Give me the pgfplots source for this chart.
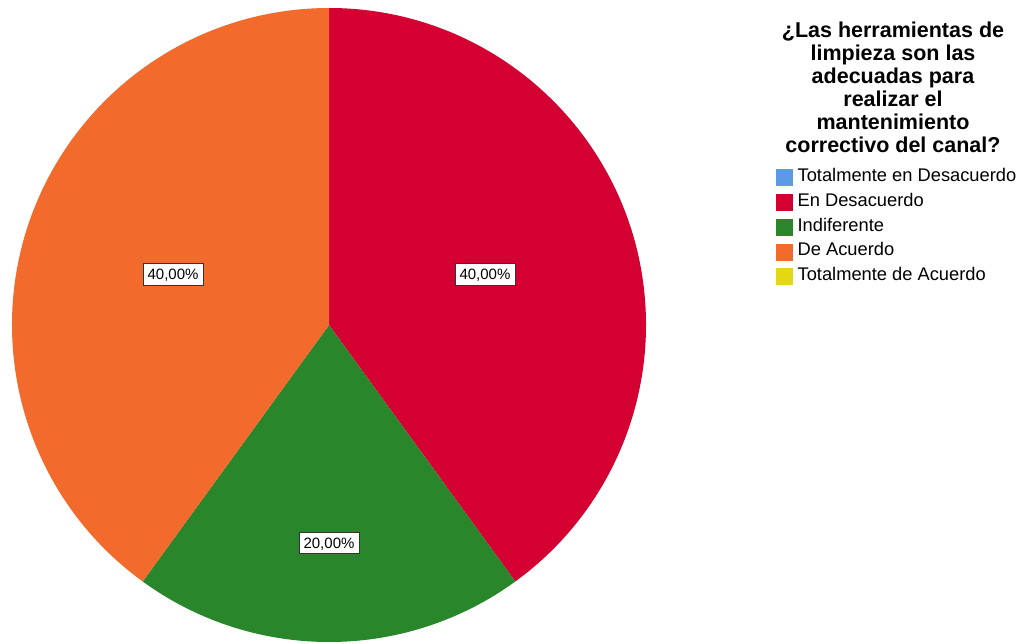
\documentclass[border=0pt]{standalone}
\usepackage{pgfplots}
\pgfplotsset{compat=1.18}
\usetikzlibrary{calc}
\usepackage{fontspec}
\setmainfont{Liberation Sans}
\definecolor{cBlue}{RGB}{91,155,230}
\definecolor{cRed}{RGB}{213,0,50}
\definecolor{cGreen}{RGB}{42,134,42}
\definecolor{cOrange}{RGB}{242,107,45}
\definecolor{cYellow}{RGB}{228,216,20}
% data: percentages
\def\vA{0}  % Totalmente en Desacuerdo
\def\vB{40} % En Desacuerdo
\def\vC{20} % Indiferente
\def\vD{40} % De Acuerdo
\def\vE{0}  % Totalmente de Acuerdo
\pgfmathsetmacro{\aA}{90-3.6*\vA}
\pgfmathsetmacro{\aB}{\aA-3.6*\vB}
\pgfmathsetmacro{\aC}{\aB-3.6*\vC}
\pgfmathsetmacro{\aD}{\aC-3.6*\vD}
\pgfmathsetmacro{\mB}{(\aA+\aB)/2}
\pgfmathsetmacro{\mC}{(\aB+\aC)/2}
\pgfmathsetmacro{\mD}{(\aC+\aD)/2}
\begin{document}
\begin{tikzpicture}
\begin{axis}[
  at={(0,0)}, anchor=south west,
  scale only axis, width=1024pt, height=643pt,
  xmin=0, xmax=1024, ymin=0, ymax=643,
  hide axis, clip=false,
  legend cell align=left,
  legend style={at={(axis cs:776,474)}, anchor=north west, draw=none, fill=none,
    inner sep=0pt, row sep=7.7pt,
    font=\fontsize{18.3}{20}\selectfont,
    nodes={inner sep=0pt, text height=12.5pt, text depth=4.5pt},
    /tikz/every odd column/.append style={column sep=5pt}},
]
\fill[cRed] (axis cs:329,318) -- ++(\aA:317pt) arc[start angle=\aA, end angle=\aB, radius=317pt] -- cycle;
\fill[cGreen] (axis cs:329,318) -- ++(\aB:317pt) arc[start angle=\aB, end angle=\aC, radius=317pt] -- cycle;
\fill[cOrange] (axis cs:329,318) -- ++(\aC:317pt) arc[start angle=\aC, end angle=\aD, radius=317pt] -- cycle;
\tikzset{pl/.style={draw=black!80, line width=0.8pt, fill=white, inner xsep=4.5pt, inner ysep=5pt, text height=11pt, text depth=0.5pt, font=\fontsize{15}{17}\selectfont}}
\node[pl] at ($(axis cs:329,318)+(\mB:164pt)$) {40,00\%};
\node[pl] at ($(axis cs:329,318)+(\mC:218pt)$) {20,00\%};
\node[pl] at ($(axis cs:329,318)+(\mD:164pt)$) {40,00\%};
\node[anchor=north, align=center, inner sep=0pt, font=\bfseries\fontsize{21.5}{23}\selectfont] at (axis cs:893,621)
  {¿Las herramientas de\\limpieza son las\\adecuadas para\\realizar el\\mantenimiento\\correctivo del canal?};
\addlegendimage{legend image code/.code={\fill[cBlue] (0pt,-8pt) rectangle (16pt,8pt);}}
\addlegendentry{Totalmente en Desacuerdo}
\addlegendimage{legend image code/.code={\fill[cRed] (0pt,-8pt) rectangle (16pt,8pt);}}
\addlegendentry{En Desacuerdo}
\addlegendimage{legend image code/.code={\fill[cGreen] (0pt,-8pt) rectangle (16pt,8pt);}}
\addlegendentry{Indiferente}
\addlegendimage{legend image code/.code={\fill[cOrange] (0pt,-8pt) rectangle (16pt,8pt);}}
\addlegendentry{De Acuerdo}
\addlegendimage{legend image code/.code={\fill[cYellow] (0pt,-8pt) rectangle (16pt,8pt);}}
\addlegendentry{Totalmente de Acuerdo}
\end{axis}
\pgfresetboundingbox
\path[use as bounding box] (0,0) rectangle (1024pt,643pt);
\end{tikzpicture}
\end{document}
